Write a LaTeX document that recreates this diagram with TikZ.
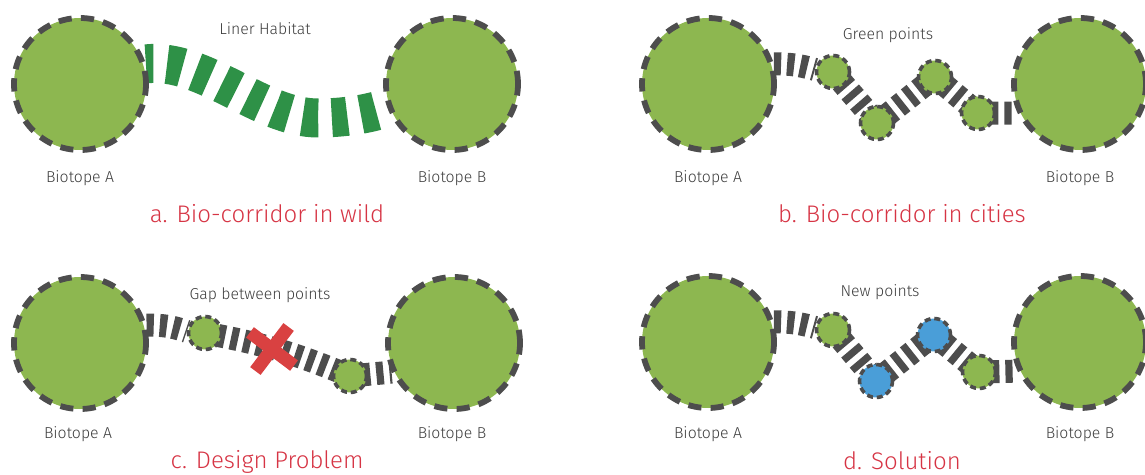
\documentclass[tikz,border=0pt]{standalone}
\usepackage{fontspec}
\setmainfont{Fira Sans Light}
\usetikzlibrary{shapes.misc}
\pgfdeclarelayer{background}
\pgfsetlayers{background,main}
\definecolor{leaf}{RGB}{141,183,80}
\definecolor{rim}{RGB}{77,77,77}
\definecolor{corrgreen}{RGB}{46,145,71}
\definecolor{newblue}{RGB}{74,158,216}
\definecolor{titlered}{RGB}{214,52,68}
\definecolor{xred}{RGB}{217,65,65}
\definecolor{labelgray}{RGB}{60,60,60}
\begin{document}
\begin{tikzpicture}[x=0.5pt,y=-0.5pt,
 biotope/.style={circle, fill=leaf, draw=rim, line width=2.9pt, dash pattern=on 6.6pt off 4.6pt, minimum size=66pt, inner sep=0pt},
 gpoint/.style={circle, fill=leaf, draw=rim, line width=1.8pt, dash pattern=on 3pt off 1.9pt, minimum size=16.5pt, inner sep=0pt},
 npoint/.style={gpoint, fill=newblue},
 habitat/.style={draw=corrgreen, line width=19.5pt, dash pattern=on 7.8pt off 6.8pt},
 corridor/.style={draw=rim, line width=11.5pt, dash pattern=on 3.6pt off 3pt},
 lbl/.style={text=labelgray, font=\fontsize{7.9pt}{9pt}\selectfont, inner sep=0pt},
 ttl/.style={text=titlered, font=\fontsize{12pt}{14pt}\selectfont, inner sep=0pt},
 gapx/.style={cross out, draw=xred, line width=6.5pt, minimum size=13pt, inner sep=0pt}
]
\useasboundingbox (0,0) rectangle (1145,475);

% ---------- panel a
\node[biotope] (A1) at (80,84) {};
\node[biotope] (B1) at (452,84) {};
\begin{pgfonlayer}{background}
\draw[habitat, dash phase=4pt] (A1.17) .. controls (205,58) and (260,118) .. (318,118) .. controls (350,118) and (375,112) .. (B1.200);
\end{pgfonlayer}
\node[lbl] (la1) at (265,29) {Liner Habitat};
\node[lbl] (ba1) at (80,178) {Biotope A};
\node[lbl] (bb1) at (452,178) {Biotope B};
\node[ttl] (t1) at (267,214) {a. Bio-corridor in wild};

% ---------- panel b
\node[biotope] (A2) at (708,84) {};
\node[biotope] (B2) at (1080,84) {};
\node[gpoint] (b1) at (833,72) {};
\node[gpoint] (b2) at (877,123) {};
\node[gpoint] (b3) at (935,77) {};
\node[gpoint] (b4) at (978,113) {};
\begin{pgfonlayer}{background}
\draw[corridor] (A2.17) to[bend left=8] (b1.172);
\draw[corridor] (b1.center) -- (b2.center);
\draw[corridor] (b2.center) -- (b3.center);
\draw[corridor] (b3.center) -- (b4.center);
\draw[corridor] (b4.center) -- (B2.205);
\end{pgfonlayer}
\node[lbl] (la2) at (888,35) {Green points};
\node[lbl] (ba2) at (708,178) {Biotope A};
\node[lbl] (bb2) at (1080,178) {Biotope B};
\node[ttl] (t2) at (902,214) {b. Bio-corridor in cities};

% ---------- panel c
\node[biotope] (A3) at (80,343) {};
\node[biotope] (B3) at (454,343) {};
\node[gpoint] (c1) at (205,333) {};
\node[gpoint] (c2) at (350,376) {};
\begin{pgfonlayer}{background}
\draw[corridor] (A3.15) to[bend left=10] (c1.175);
\draw[corridor] (c1.center) to[bend left=6] (c2.center);
\draw[corridor] (c2.center) -- (B3.205);
\end{pgfonlayer}
\node[gapx, rotate=8] (X) at (272,349) {};
\node[lbl] (la3) at (260,295) {Gap between points};
\node[lbl] (ba3) at (78,434) {Biotope A};
\node[lbl] (bb3) at (452,434) {Biotope B};
\node[ttl] (t3) at (267,462) {c. Design Problem};

% ---------- panel d
\node[biotope] (A4) at (708,342) {};
\node[biotope] (B4) at (1080,342) {};
\node[gpoint] (d1) at (833,330) {};
\node[npoint] (d2) at (876,381) {};
\node[npoint] (d3) at (934,335) {};
\node[gpoint] (d4) at (979,372) {};
\begin{pgfonlayer}{background}
\draw[corridor] (A4.17) to[bend left=8] (d1.172);
\draw[corridor] (d1.center) -- (d2.center);
\draw[corridor] (d2.center) -- (d3.center);
\draw[corridor] (d3.center) -- (d4.center);
\draw[corridor] (d4.center) -- (B4.205);
\end{pgfonlayer}
\node[lbl] (la4) at (880,292) {New points};
\node[lbl] (ba4) at (708,434) {Biotope A};
\node[lbl] (bb4) at (1080,434) {Biotope B};
\node[ttl] (t4) at (902,461) {d. Solution};
\end{tikzpicture}
\end{document}
